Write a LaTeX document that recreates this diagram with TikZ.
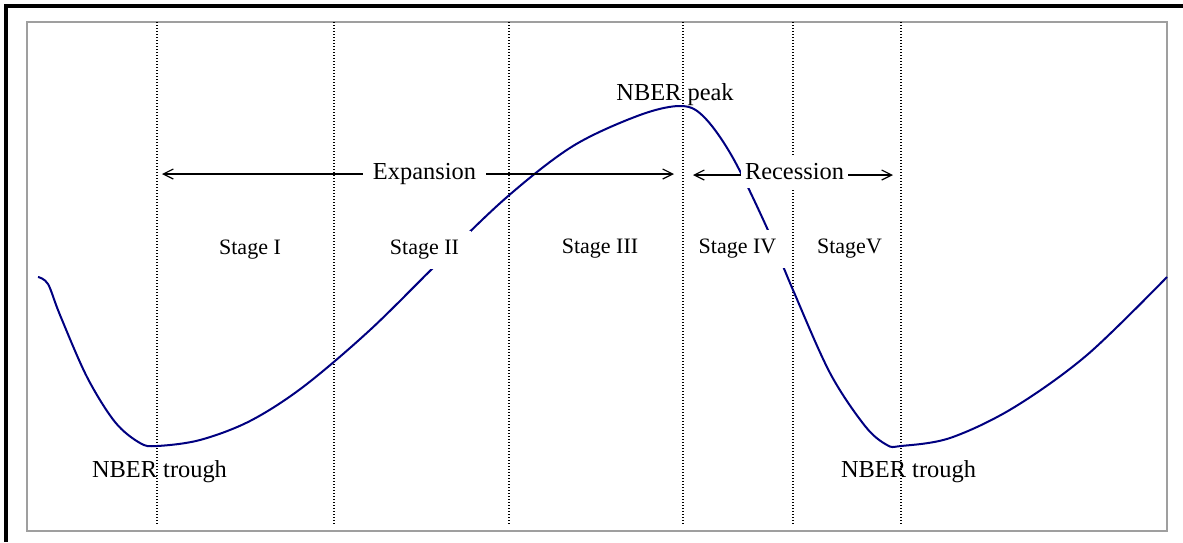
\documentclass[tikz,border=0pt]{standalone}
\usepackage{fontspec}
\setmainfont{Liberation Serif}
\usetikzlibrary{arrows.meta}
\definecolor{curveblue}{RGB}{0,0,128}
\tikzset{
  stageline/.style={black, line width=0.6pt, dash pattern=on 0.7pt off 0.8pt},
  phasearrow/.style={black, line width=0.6pt, {Straight Barb[length=5pt,width=5pt]}-{Straight Barb[length=5pt,width=5pt]}},
  stagelabel/.style={fill=white, inner xsep=6pt, inner ysep=4.5pt, font=\rmfamily\fontsize{11}{13}\selectfont},
  phaselabel/.style={fill=white, inner ysep=4pt, font=\rmfamily\fontsize{12.2}{14}\selectfont},
  pointlabel/.style={inner sep=0pt, font=\rmfamily\fontsize{12.2}{14}\selectfont},
}
\begin{document}
\begin{tikzpicture}[x=0.5pt, y=-0.5pt]
\useasboundingbox (0,0) rectangle (1183,542);
% frames
\draw[black, line width=1.8pt] (6,542) -- (6,6) -- (1183,6);
\draw[gray!75, line width=1pt] (27,22) rectangle (1167,531);
% stage boundaries
\foreach \x/\n in {157/a,334/b,509/c,683/d,793/e,901/f}{
  \coordinate (top\n) at (\x,22);
  \coordinate (bot\n) at (\x,524);
  \draw[stageline] (top\n) -- (bot\n);
}
% business cycle curve
\draw[curveblue, line width=1pt] plot[smooth, tension=0.55] coordinates {
 (38,277) (48,284) (60,315) (87,377) (115,422) (140,443) (157,446) (200,440)
 (250,421) (303,387) (370,330) (440,261) (507,197) (573,146) (640,115) (682,106)
 (705,118) (733,158) (767,228) (793,290) (830,373) (865,426) (887,445) (901,446)
 (950,438) (1013,408) (1087,355) (1167,277)};
% phase arrows
\coordinate (expL) at (162,174);
\coordinate (expR) at (674,174);
\coordinate (recL) at (693,175);
\coordinate (recR) at (893,175);
\draw[phasearrow] (expL) -- (expR);
\draw[phasearrow] (recL) -- (recR);
\node[phaselabel, inner xsep=5pt] (exp) at (424.5,174) {Expansion};
\node[phaselabel, inner xsep=2pt] (rec) at (794.5,172) {Recession};
% stage labels
\node[stagelabel] (s1) at (250,250) {Stage I};
\node[stagelabel] (s2) at (424.5,250) {Stage II};
\node[stagelabel] (s3) at (600,249) {Stage III};
\node[stagelabel] (s4) at (737.5,249) {Stage IV};
\node[stagelabel] (s5) at (849.5,249) {StageV};
% turning points
\node[pointlabel] (peak) at (675,95) {NBER peak};
\node[pointlabel] (tr1) at (159.5,472) {NBER trough};
\node[pointlabel] (tr2) at (908.5,472) {NBER trough};
\end{tikzpicture}
\end{document}
